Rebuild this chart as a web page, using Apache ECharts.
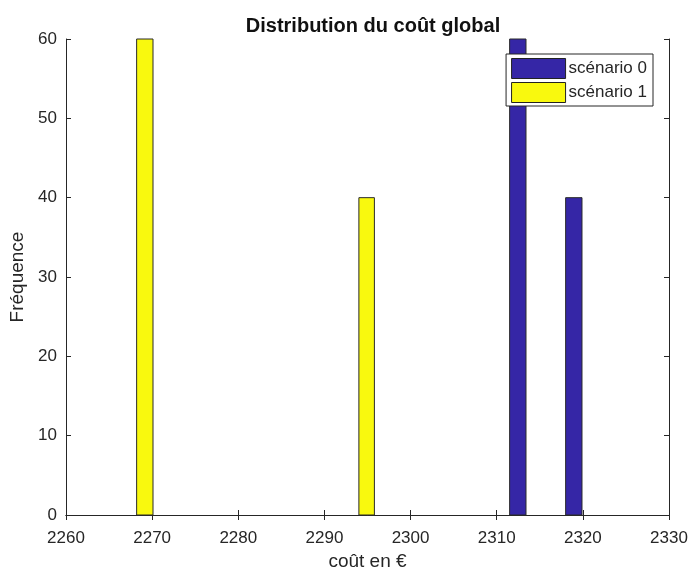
<!DOCTYPE html>
<html>
<head>
<meta charset="utf-8">
<script src="https://cdn.jsdelivr.net/npm/echarts@6/dist/echarts.min.js"></script>
<style>html,body{margin:0;padding:0;background:#fff;}#c{width:689px;height:571px;}</style>
</head>
<body>
<div id="c"></div>
<script>
// Data
const seriesNames = ['scénario 0', 'scénario 1'];
const binStart0 = [2311.5, 2318.0];
const binEnd0   = [2313.4, 2319.9];
const counts0   = [60, 40];
const binStart1 = [2268.2, 2294.0];
const binEnd1   = [2270.1, 2295.8];
const counts1   = [60, 40];
const xTicks = [2260, 2270, 2280, 2290, 2300, 2310, 2320, 2330];
const yTicks = [0, 10, 20, 30, 40, 50, 60];

const FONT = 'Liberation Sans, Arial, sans-serif';
const TXT = '#262626';
const colors = ['#3526a6', '#f9f90e'];

function toData(s, e, c) { return s.map((v, i) => [v, e[i], c[i]]); }

function renderBar(params, api) {
  const p0 = api.coord([api.value(0), api.value(2)]);
  const p1 = api.coord([api.value(1), 0]);
  return {
    type: 'rect',
    shape: { x: p0[0], y: p0[1], width: p1[0] - p0[0], height: p1[1] - p0[1] },
    style: { fill: api.visual('color'), stroke: '#2a2a2a', lineWidth: 1 }
  };
}

const chart = echarts.init(document.getElementById('c'));
const axisLine = { show: true, lineStyle: { color: '#262626', width: 1 } };
const tick = { show: true, inside: true, length: 5, lineStyle: { color: '#262626' } };
chart.setOption({
  animation: false,
  backgroundColor: '#fff',
  title: {
    text: 'Distribution du coût global', left: 368, top: 11, textAlign: 'center',
    textStyle: { fontFamily: FONT, fontSize: 20, fontWeight: 'bold', color: '#111' }
  },
  legend: {
    data: seriesNames, orient: 'vertical', right: 36, top: 54,
    itemWidth: 54, itemHeight: 20, itemGap: 3, padding: [4, 6, 3, 5],
    icon: 'rect', borderColor: '#262626', borderWidth: 1, backgroundColor: '#fff',
    itemStyle: { borderColor: '#222', borderWidth: 1 },
    textStyle: { fontFamily: FONT, fontSize: 17, color: TXT, padding: [0, 0, 0, -2] }
  },
  grid: { left: 66, right: 20, top: 39, bottom: 56, containLabel: false, outerBoundsMode: 'none' },
  xAxis: [{
    type: 'value', min: 2260, max: 2330, interval: 10,
    name: 'coût en €', nameLocation: 'middle', nameGap: 36,
    nameTextStyle: { fontFamily: FONT, fontSize: 19, color: TXT },
    axisLine, axisTick: tick, splitLine: { show: false },
    axisLabel: { fontFamily: FONT, fontSize: 17, color: TXT, margin: 15,
      formatter: v => xTicks.includes(v) ? String(v) : '' }
  }, {
    type: 'value', position: 'top', min: 2260, max: 2330, interval: 10,
    axisLine, axisTick: tick, axisLabel: { show: false }, splitLine: { show: false }
  }],
  yAxis: [{
    type: 'value', min: 0, max: 60, interval: 10,
    name: 'Fréquence', nameLocation: 'middle', nameGap: 34,
    nameTextStyle: { fontFamily: FONT, fontSize: 19, color: TXT },
    axisLine, axisTick: tick, splitLine: { show: false },
    axisLabel: { fontFamily: FONT, fontSize: 17, color: TXT, margin: 9,
      formatter: v => yTicks.includes(v) ? String(v) : '' }
  }, {
    type: 'value', position: 'right', min: 0, max: 60, interval: 10,
    axisLine, axisTick: tick, axisLabel: { show: false }, splitLine: { show: false }
  }],
  series: [{
    name: seriesNames[0], type: 'custom', renderItem: renderBar,
    itemStyle: { color: colors[0] }, encode: { x: [0, 1], y: 2 },
    data: toData(binStart0, binEnd0, counts0)
  }, {
    name: seriesNames[1], type: 'custom', renderItem: renderBar,
    itemStyle: { color: colors[1] }, encode: { x: [0, 1], y: 2 },
    data: toData(binStart1, binEnd1, counts1)
  }]
});
</script>
</body>
</html>
